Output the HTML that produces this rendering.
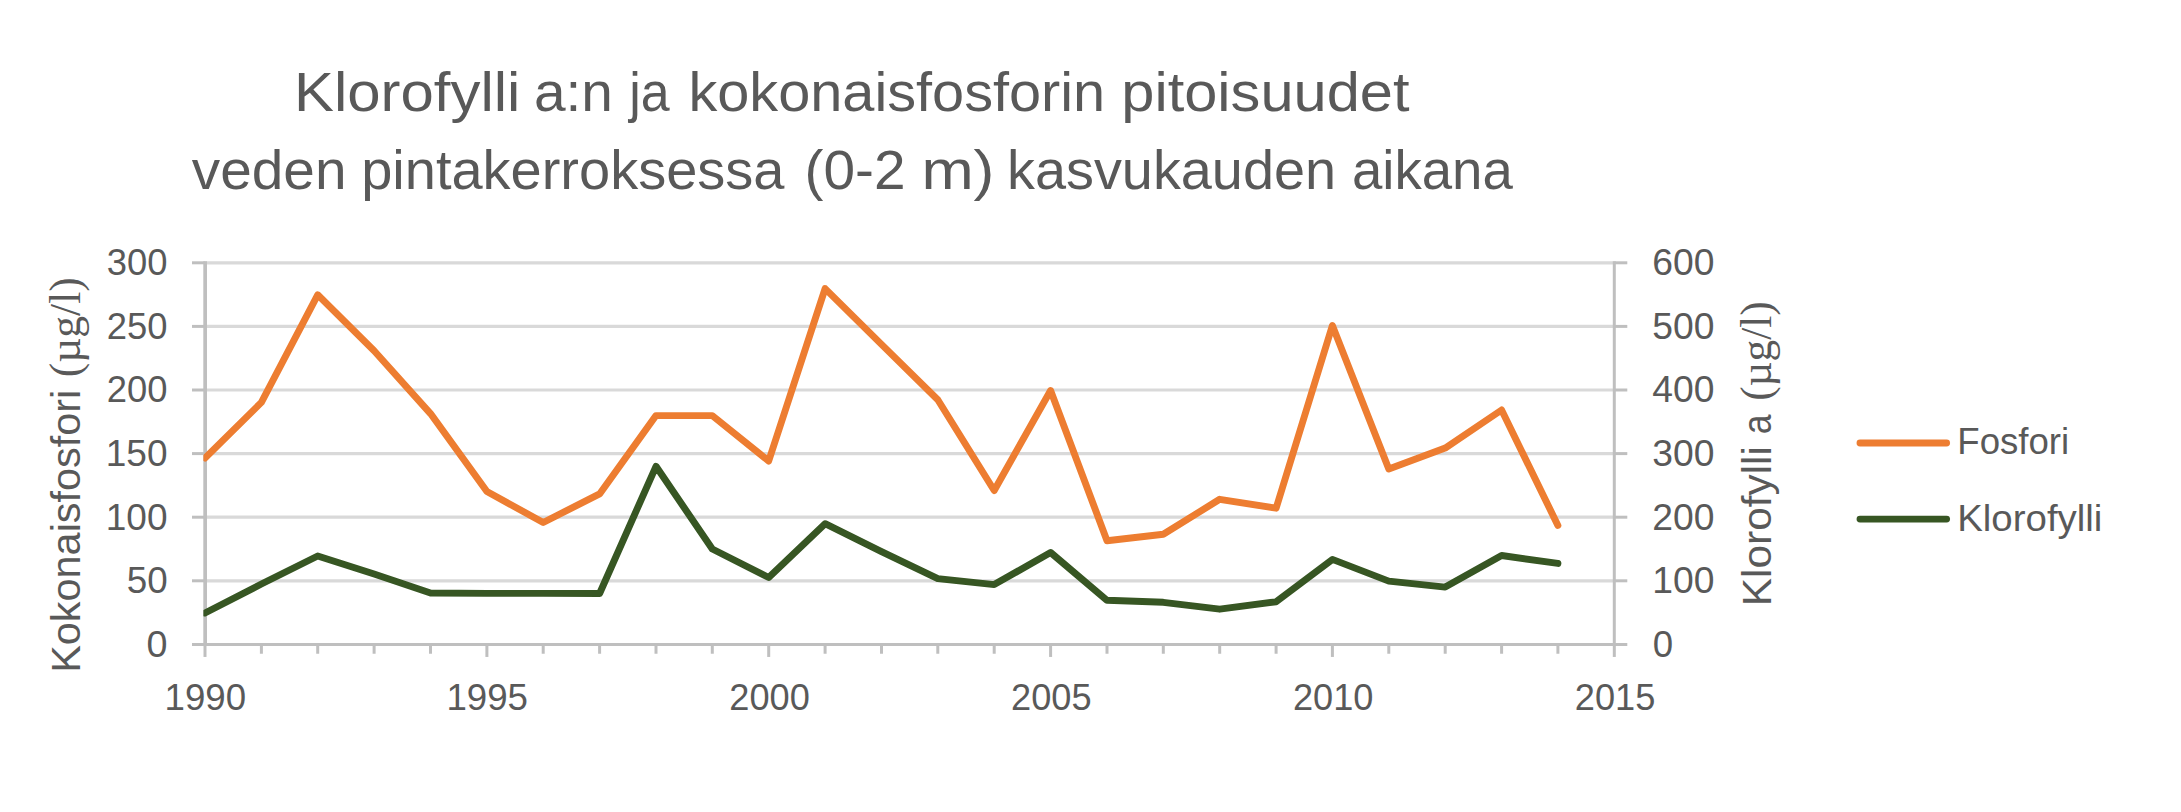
<!DOCTYPE html>
<html lang="fi"><head><meta charset="utf-8"><title>Klorofylli a:n ja kokonaisfosforin pitoisuudet</title>
<style>
html,body{margin:0;padding:0;background:#fff;}
body{width:2181px;height:812px;overflow:hidden;}
svg{display:block;}
text{font-family:"Liberation Sans",sans-serif;fill:#595959;}
text.serif{font-family:"Liberation Serif",serif;}
</style></head><body>
<svg width="2181" height="812" viewBox="0 0 2181 812">
<rect width="2181" height="812" fill="#ffffff"/>

<g stroke="#d9d9d9" stroke-width="3.2" fill="none">
<line x1="205.0" y1="262.8" x2="1614.3" y2="262.8"/>
<line x1="205.0" y1="326.4" x2="1614.3" y2="326.4"/>
<line x1="205.0" y1="390.0" x2="1614.3" y2="390.0"/>
<line x1="205.0" y1="453.6" x2="1614.3" y2="453.6"/>
<line x1="205.0" y1="517.2" x2="1614.3" y2="517.2"/>
<line x1="205.0" y1="580.8" x2="1614.3" y2="580.8"/>
</g>
<g stroke="#bfbfbf" stroke-width="3" fill="none">
<line x1="205.15" y1="261.2" x2="205.15" y2="646.0500000000001" stroke-width="3.7"/>
<line x1="1614.3" y1="261.2" x2="1614.3" y2="646.0500000000001"/>
<line x1="192.0" y1="644.45" x2="1627.3" y2="644.45"/>
<line x1="192.0" y1="262.8" x2="205.0" y2="262.8"/>
<line x1="1614.3" y1="262.8" x2="1627.3" y2="262.8"/>
<line x1="192.0" y1="326.4" x2="205.0" y2="326.4"/>
<line x1="1614.3" y1="326.4" x2="1627.3" y2="326.4"/>
<line x1="192.0" y1="390.0" x2="205.0" y2="390.0"/>
<line x1="1614.3" y1="390.0" x2="1627.3" y2="390.0"/>
<line x1="192.0" y1="453.6" x2="205.0" y2="453.6"/>
<line x1="1614.3" y1="453.6" x2="1627.3" y2="453.6"/>
<line x1="192.0" y1="517.2" x2="205.0" y2="517.2"/>
<line x1="1614.3" y1="517.2" x2="1627.3" y2="517.2"/>
<line x1="192.0" y1="580.8" x2="205.0" y2="580.8"/>
<line x1="1614.3" y1="580.8" x2="1627.3" y2="580.8"/>
<line x1="205.0" y1="644.45" x2="205.0" y2="656.95"/>
<line x1="261.4" y1="644.45" x2="261.4" y2="653.75"/>
<line x1="317.7" y1="644.45" x2="317.7" y2="653.75"/>
<line x1="374.1" y1="644.45" x2="374.1" y2="653.75"/>
<line x1="430.5" y1="644.45" x2="430.5" y2="653.75"/>
<line x1="486.9" y1="644.45" x2="486.9" y2="656.95"/>
<line x1="543.2" y1="644.45" x2="543.2" y2="653.75"/>
<line x1="599.6" y1="644.45" x2="599.6" y2="653.75"/>
<line x1="656.0" y1="644.45" x2="656.0" y2="653.75"/>
<line x1="712.3" y1="644.45" x2="712.3" y2="653.75"/>
<line x1="768.7" y1="644.45" x2="768.7" y2="656.95"/>
<line x1="825.1" y1="644.45" x2="825.1" y2="653.75"/>
<line x1="881.5" y1="644.45" x2="881.5" y2="653.75"/>
<line x1="937.8" y1="644.45" x2="937.8" y2="653.75"/>
<line x1="994.2" y1="644.45" x2="994.2" y2="653.75"/>
<line x1="1050.6" y1="644.45" x2="1050.6" y2="656.95"/>
<line x1="1107.0" y1="644.45" x2="1107.0" y2="653.75"/>
<line x1="1163.3" y1="644.45" x2="1163.3" y2="653.75"/>
<line x1="1219.7" y1="644.45" x2="1219.7" y2="653.75"/>
<line x1="1276.1" y1="644.45" x2="1276.1" y2="653.75"/>
<line x1="1332.4" y1="644.45" x2="1332.4" y2="656.95"/>
<line x1="1388.8" y1="644.45" x2="1388.8" y2="653.75"/>
<line x1="1445.2" y1="644.45" x2="1445.2" y2="653.75"/>
<line x1="1501.6" y1="644.45" x2="1501.6" y2="653.75"/>
<line x1="1557.9" y1="644.45" x2="1557.9" y2="653.75"/>
<line x1="1614.3" y1="644.45" x2="1614.3" y2="656.95"/>
</g>
<clipPath id="plot"><rect x="203.4" y="252.8" width="1412.5" height="401.65000000000003"/></clipPath>
<g clip-path="url(#plot)">
<polyline points="205.0,458.0 261.4,402.4 317.7,294.8 374.1,350.8 430.5,413.6 486.9,491.5 543.2,522.5 599.6,493.9 656.0,415.6 712.3,415.6 768.7,461.0 825.1,288.6 881.5,344.4 937.8,399.8 994.2,490.5 1050.6,390.5 1107.0,540.7 1163.3,534.3 1219.7,499.3 1276.1,508.2 1332.4,325.5 1388.8,469.0 1445.2,448.1 1501.6,410.0 1557.9,525.4" fill="none" stroke="#ed7d31" stroke-width="6.9" stroke-linejoin="round" stroke-linecap="round"/>
<polyline points="205.0,613.0 261.4,584.0 317.7,556.0 374.1,574.0 430.5,593.0 486.9,593.4 543.2,593.4 599.6,593.5 656.0,466.3 712.3,549.0 768.7,577.5 825.1,523.7 881.5,551.6 937.8,578.6 994.2,584.6 1050.6,552.5 1107.0,600.3 1163.3,602.3 1219.7,609.2 1276.1,601.8 1332.4,559.4 1388.8,581.1 1445.2,587.1 1501.6,555.5 1557.9,563.4" fill="none" stroke="#375623" stroke-width="6.9" stroke-linejoin="round" stroke-linecap="round"/>
</g>
<text x="294.1" y="111.0" font-size="56" textLength="226.2" lengthAdjust="spacingAndGlyphs">Klorofylli</text>
<text x="533.9" y="111.0" font-size="56" textLength="79.0" lengthAdjust="spacingAndGlyphs">a:n</text>
<text x="629.2" y="111.0" font-size="56" textLength="40.4" lengthAdjust="spacingAndGlyphs">ja</text>
<text x="688.4" y="111.0" font-size="56" textLength="416.8" lengthAdjust="spacingAndGlyphs">kokonaisfosforin</text>
<text x="1121.3" y="111.0" font-size="56" textLength="288.2" lengthAdjust="spacingAndGlyphs">pitoisuudet</text>
<text x="191.8" y="188.6" font-size="56" textLength="154.7" lengthAdjust="spacingAndGlyphs">veden</text>
<text x="361.2" y="188.6" font-size="56" textLength="423.2" lengthAdjust="spacingAndGlyphs">pintakerroksessa</text>
<text x="804.5" y="188.6" font-size="56" textLength="101.0" lengthAdjust="spacingAndGlyphs">(0-2</text>
<text x="921.4" y="188.6" font-size="56" textLength="73.1" lengthAdjust="spacingAndGlyphs">m)</text>
<text x="1007.0" y="188.6" font-size="56" textLength="329.1" lengthAdjust="spacingAndGlyphs">kasvukauden</text>
<text x="1351.9" y="188.6" font-size="56" textLength="160.9" lengthAdjust="spacingAndGlyphs">aikana</text>
<text x="1957.3" y="454.4" font-size="36" textLength="111.9" lengthAdjust="spacingAndGlyphs">Fosfori</text>
<text x="1957.2" y="530.8" font-size="36" textLength="145.2" lengthAdjust="spacingAndGlyphs">Klorofylli</text>
<text x="106.8" y="275.2" font-size="36" textLength="60.7" lengthAdjust="spacingAndGlyphs">300</text>
<text x="106.8" y="338.8" font-size="36" textLength="60.7" lengthAdjust="spacingAndGlyphs">250</text>
<text x="106.8" y="402.4" font-size="36" textLength="60.7" lengthAdjust="spacingAndGlyphs">200</text>
<text x="105.7" y="466.0" font-size="36" textLength="61.8" lengthAdjust="spacingAndGlyphs">150</text>
<text x="105.7" y="529.6" font-size="36" textLength="61.8" lengthAdjust="spacingAndGlyphs">100</text>
<text x="126.7" y="593.2" font-size="36" textLength="40.9" lengthAdjust="spacingAndGlyphs">50</text>
<text x="146.5" y="656.9" font-size="36" textLength="21.0" lengthAdjust="spacingAndGlyphs">0</text>
<text x="1652.3" y="275.2" font-size="36" textLength="62.2" lengthAdjust="spacingAndGlyphs">600</text>
<text x="1652.3" y="338.8" font-size="36" textLength="62.2" lengthAdjust="spacingAndGlyphs">500</text>
<text x="1652.3" y="402.4" font-size="36" textLength="62.2" lengthAdjust="spacingAndGlyphs">400</text>
<text x="1652.3" y="466.0" font-size="36" textLength="62.2" lengthAdjust="spacingAndGlyphs">300</text>
<text x="1652.3" y="529.6" font-size="36" textLength="62.2" lengthAdjust="spacingAndGlyphs">200</text>
<text x="1652.3" y="593.2" font-size="36" textLength="62.2" lengthAdjust="spacingAndGlyphs">100</text>
<text x="1652.7" y="656.9" font-size="36" textLength="20.4" lengthAdjust="spacingAndGlyphs">0</text>
<text x="164.5" y="709.6" font-size="36" textLength="81.6" lengthAdjust="spacingAndGlyphs">1990</text>
<text x="446.4" y="709.6" font-size="36" textLength="81.6" lengthAdjust="spacingAndGlyphs">1995</text>
<text x="729.3" y="709.6" font-size="36" textLength="80.5" lengthAdjust="spacingAndGlyphs">2000</text>
<text x="1011.1" y="709.6" font-size="36" textLength="80.5" lengthAdjust="spacingAndGlyphs">2005</text>
<text x="1293.0" y="709.6" font-size="36" textLength="80.5" lengthAdjust="spacingAndGlyphs">2010</text>
<text x="1574.8" y="709.6" font-size="36" textLength="80.5" lengthAdjust="spacingAndGlyphs">2015</text>
<g transform="translate(80,670) rotate(-90)"><text x="-2.8" y="0.0" font-size="40" textLength="283.1" lengthAdjust="spacingAndGlyphs">Kokonaisfosfori</text></g>
<g transform="translate(80,670) rotate(-90)"><text class="serif" x="292.8" y="0.0" font-size="44" textLength="100.0" lengthAdjust="spacingAndGlyphs">(µg/l)</text></g>
<g transform="translate(1770.6,604) rotate(-90)"><text x="-2.2" y="0.0" font-size="40" textLength="160.1" lengthAdjust="spacingAndGlyphs">Klorofylli</text></g>
<g transform="translate(1770.6,604) rotate(-90)"><text x="169.8" y="0.0" font-size="40" textLength="19.8" lengthAdjust="spacingAndGlyphs">a</text></g>
<g transform="translate(1770.6,604) rotate(-90)"><text class="serif" x="203.2" y="0.0" font-size="44" textLength="99.4" lengthAdjust="spacingAndGlyphs">(µg/l)</text></g>
<line x1="1860" y1="443" x2="1946.6" y2="443" stroke="#ed7d31" stroke-width="6.9" stroke-linecap="round"/>
<line x1="1860" y1="519.1" x2="1946.6" y2="519.1" stroke="#375623" stroke-width="6.9" stroke-linecap="round"/>
</svg></body></html>
